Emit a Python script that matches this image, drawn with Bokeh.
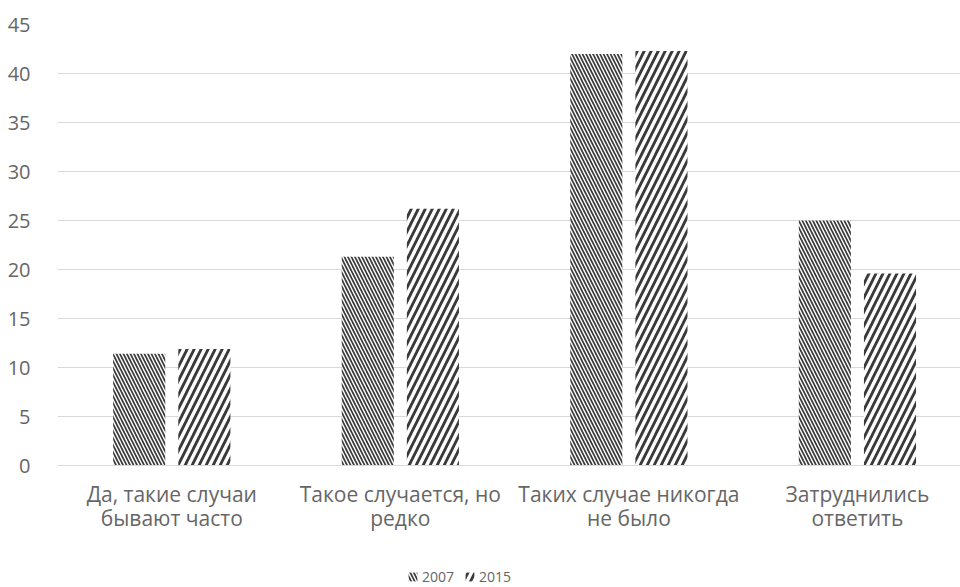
from bokeh.plotting import figure
from bokeh.layouts import column
from bokeh.models import Range1d, FixedTicker, Legend, LegendItem, ColumnDataSource
from bokeh.embed import file_html
from bokeh.resources import INLINE

# Survey answers (percent of respondents)
categories = [
    "Да, такие случаи\nбывают часто",
    "Такое случается, но\nредко",
    "Таких случае никогда\nне было",
    "Затруднились\nответить",
]
series_names = ["2007", "2015"]
values_2007 = [11.4, 21.3, 42.0, 25.0]
values_2015 = [11.9, 26.2, 42.3, 19.6]
y_ticks = [0, 5, 10, 15, 20, 25, 30, 35, 40, 45]

TEXT = "#666666"
GRID = "#d9d9d9"
HATCH = "#3a3a3a"
FONT = "Open Sans"

STYLE_07 = dict(fill_color="white", line_color=None, hatch_pattern="\\",
                hatch_color=HATCH, hatch_scale=7, hatch_weight=1.7)
STYLE_15 = dict(fill_color="white", line_color=None, hatch_pattern="/",
                hatch_color=HATCH, hatch_scale=14, hatch_weight=2.8)

centers = [i + 0.5 for i in range(len(categories))]
offset = 0.1425
bar_w = 0.228

src07 = ColumnDataSource(dict(x=[c - offset for c in centers], top=values_2007))
src15 = ColumnDataSource(dict(x=[c + offset for c in centers], top=values_2015))

p = figure(
    width=960, height=564,
    x_range=Range1d(0, 3.951), y_range=Range1d(0, 45),
    output_backend="svg", toolbar_location=None,
    min_border_left=57, min_border_right=0, min_border_top=24, min_border_bottom=99,
)
p.outline_line_color = None
p.background_fill_color = "white"
p.border_fill_color = "white"

p.vbar(x="x", top="top", width=bar_w, bottom=0, source=src07, **STYLE_07)
p.vbar(x="x", top="top", width=bar_w, bottom=0, source=src15, **STYLE_15)

# y axis
p.yaxis.ticker = FixedTicker(ticks=y_ticks)
p.yaxis.axis_line_color = None
p.yaxis.major_tick_line_color = None
p.yaxis.minor_tick_line_color = None
p.yaxis.major_label_standoff = 21
p.yaxis.major_label_text_font = FONT
p.yaxis.major_label_text_font_size = "20px"
p.yaxis.major_label_text_color = TEXT

# x axis with category labels at the group centers
p.xaxis.ticker = FixedTicker(ticks=centers)
p.xaxis.major_label_overrides = {c: lab for c, lab in zip(centers, categories)}
p.xaxis.axis_line_color = GRID
p.xaxis.major_tick_line_color = None
p.xaxis.minor_tick_line_color = None
p.xaxis.major_label_standoff = 8
p.xaxis.major_label_text_font = FONT
p.xaxis.major_label_text_font_size = "21px"
p.xaxis.major_label_text_line_height = 0.875
p.xaxis.major_label_text_color = TEXT

p.xgrid.grid_line_color = None
p.ygrid.ticker = FixedTicker(ticks=y_ticks)
p.ygrid.grid_line_color = GRID
p.ygrid.grid_line_width = 1

# legend strip under the chart; its swatch renderers sit outside the strip's view
leg = figure(
    width=960, height=23, output_backend="svg", toolbar_location=None,
    x_range=Range1d(10, 11), y_range=Range1d(100, 101),
    x_axis_location=None, y_axis_location=None,
    min_border_left=0, min_border_right=0, min_border_top=0, min_border_bottom=0,
)
leg.outline_line_color = None
leg.xgrid.visible = False
leg.ygrid.visible = False
k07 = leg.vbar(x="x", top="top", width=bar_w, source=src07, **STYLE_07)
k15 = leg.vbar(x="x", top="top", width=bar_w, source=src15, **STYLE_15)

legend = Legend(
    items=[LegendItem(label=series_names[0], renderers=[k07]),
           LegendItem(label=series_names[1], renderers=[k15])],
    location=(350, 1), orientation="horizontal",
    border_line_color=None, background_fill_alpha=0,
    label_text_font=FONT, label_text_font_size="14px", label_text_color=TEXT,
    glyph_width=11, glyph_height=11, spacing=10, padding=0, margin=0,
    label_standoff=4,
)
leg.add_layout(legend)

open("out.html", "w").write(file_html(column(p, leg, spacing=0), INLINE))
